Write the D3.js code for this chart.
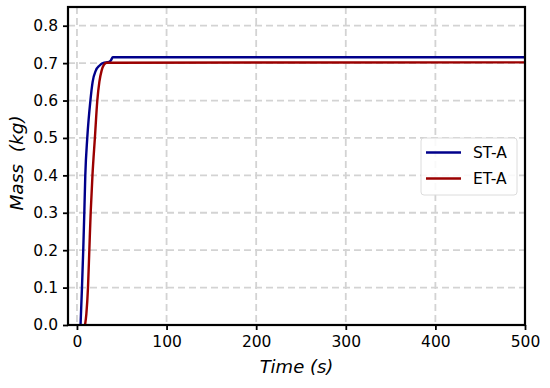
<!DOCTYPE html>
<html>
<head>
<meta charset="utf-8">
<script src="https://cdn.jsdelivr.net/npm/d3@7"></script>
<style>
body { margin: 0; background: white; }
text { font-family: "DejaVu Sans", sans-serif; }
</style>
</head>
<body>
<svg id="chart" width="550" height="388"></svg>
<script>
// series
var stTime = [4, 5.6, 7, 8.2, 9.3, 11.5, 15, 17.5, 21, 25, 29, 36, 38, 40, 500];
var stMass = [0, 0.1, 0.2, 0.3, 0.4, 0.5, 0.6, 0.65, 0.68, 0.693, 0.7, 0.703, 0.708, 0.7155, 0.7155];
var etTime = [9, 10.5, 12.3, 13.8, 15.3, 17.3, 20, 22.7, 25, 27.5, 30, 33, 500];
var etMass = [0, 0.03, 0.1, 0.2, 0.3, 0.4, 0.5, 0.6, 0.65, 0.68, 0.695, 0.701, 0.702];
var xTicks = [0, 100, 200, 300, 400, 500];
var yTicks = [0, 0.1, 0.2, 0.3, 0.4, 0.5, 0.6, 0.7, 0.8];
var seriesNames = ["ST-A", "ET-A"];
var seriesColors = ["#00008b", "#9b0000"];

var svg = d3.select("#chart");
var plotL = 68, plotR = 525, plotT = 7, plotB = 325;

var xScale = d3.scaleLinear().domain([-10, 500]).range([plotL, plotR]);
var yScale = d3.scaleLinear().domain([0, 0.85]).range([plotB, plotT]);

// dashed grid
var grid = svg.append("g");
grid.selectAll(".gx").data(xTicks).enter().append("line")
    .attr("x1", d => xScale(d)).attr("x2", d => xScale(d))
    .attr("y1", plotT).attr("y2", plotB)
    .style("stroke", "#d3d3d3").style("stroke-width", 1.8).style("stroke-dasharray", "7,4");
grid.selectAll(".gy").data(yTicks).enter().append("line")
    .attr("x1", plotL).attr("x2", plotR)
    .attr("y1", d => yScale(d)).attr("y2", d => yScale(d))
    .style("stroke", "#d3d3d3").style("stroke-width", 1.8).style("stroke-dasharray", "7,4");

// curves
var line = d3.line()
    .x(d => xScale(d[0]))
    .y(d => yScale(d[1]))
    .curve(d3.curveMonotoneX);

var series = [d3.zip(stTime, stMass), d3.zip(etTime, etMass)];
svg.append("defs").append("clipPath").attr("id", "clip")
    .append("rect").attr("x", plotL).attr("y", plotT).attr("width", plotR - plotL).attr("height", plotB - plotT);
svg.selectAll(".series").data(series).enter().append("path")
    .attr("d", line)
    .attr("clip-path", "url(#clip)")
    .style("fill", "none")
    .style("stroke", (d, i) => seriesColors[i])
    .style("stroke-width", 2.4);

// axes
var xAxis = d3.axisBottom(xScale).tickValues(xTicks).tickSize(5).tickPadding(6);
var yAxis = d3.axisLeft(yScale).tickValues(yTicks).tickFormat(d3.format(".1f")).tickSize(5).tickPadding(5);

var gx = svg.append("g").attr("transform", "translate(0," + plotB + ")").call(xAxis);
var gy = svg.append("g").attr("transform", "translate(" + plotL + ",0)").call(yAxis);
[gx, gy].forEach(function(g) {
    g.attr("font-size", null).attr("font-family", null);
    g.select(".domain").remove();
    g.selectAll(".tick line").style("stroke", "black").style("stroke-width", 1.8);
    g.selectAll(".tick text").style("font-size", "15.5px").style("fill", "black");
});

// frame
svg.append("rect")
    .attr("x", plotL).attr("y", plotT)
    .attr("width", plotR - plotL).attr("height", plotB - plotT)
    .style("fill", "none").style("stroke", "black").style("stroke-width", 2.2);

// axis labels
svg.append("text")
    .attr("x", (plotL + plotR) / 2).attr("y", 373)
    .attr("text-anchor", "middle")
    .style("font-size", "18px").style("font-style", "italic")
    .text("Time (s)");
svg.append("text")
    .attr("transform", "translate(23,163) rotate(-90)")
    .attr("text-anchor", "middle")
    .style("font-size", "18.5px").style("font-style", "italic")
    .style("white-space", "pre")
    .text("Mass  (kg)");

// legend
var legend = svg.append("g").attr("transform", "translate(421,138)");
legend.append("rect")
    .attr("width", 96).attr("height", 57).attr("rx", 3)
    .style("fill", "white").style("fill-opacity", 0.85)
    .style("stroke", "#dcdcdc").style("stroke-width", 1);
seriesNames.forEach(function(name, i) {
    legend.append("line")
        .attr("x1", 5).attr("x2", 40)
        .attr("y1", 14.5 + i * 26).attr("y2", 14.5 + i * 26)
        .style("stroke", seriesColors[i]).style("stroke-width", 2.4);
    legend.append("text")
        .attr("x", 52).attr("y", 14.5 + i * 26)
        .attr("dy", "0.35em")
        .style("font-size", "15.5px")
        .text(name);
});
</script>
</body>
</html>
